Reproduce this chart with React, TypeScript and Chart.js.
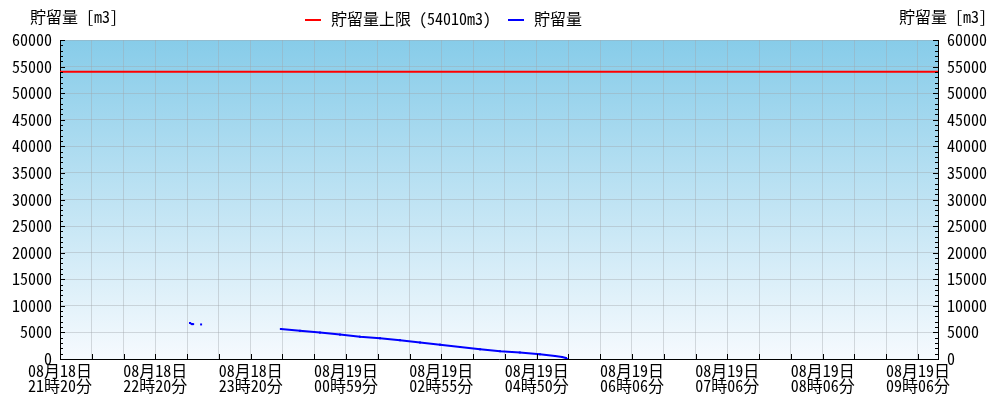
import React, { useEffect, useRef } from "react";
import { Chart, registerables } from "chart.js";

Chart.register(...registerables);

// ---- data ----
const DATE_LABELS = ["08月18日", "08月18日", "08月18日", "08月19日", "08月19日", "08月19日", "08月19日", "08月19日", "08月19日", "08月19日"];
const TIME_LABELS = ["21時20分", "22時20分", "23時20分", "00時59分", "02時55分", "04時50分", "06時06分", "07時06分", "08時06分", "09時06分"];
const X_MIN = 0;
const X_MAX = 27.63;
const LABEL_EVERY = 3;
const Y_MIN = 0;
const Y_MAX = 60000;
const Y_STEP = 5000;
const Y_MINOR_STEP = 1000;
const LIMIT_VALUE = 54010;
const LIMIT_LABEL = "貯留量上限 (54010m3)";
const STORAGE_LABEL = "貯留量";
const AXIS_TITLE = "貯留量 [m3]";
// sample positions (in axis index units) and storage values, null = missing
const STORAGE_X = [4.09, 4.15, 4.19, 4.3, 4.44, 4.6, 6.95, 7.55, 8.18, 8.81, 9.44, 10.07, 10.7, 11.33, 11.96, 12.59, 13.22, 13.85, 14.47, 15.1, 15.58, 15.8, 15.92, 15.95];
const STORAGE_Y: (number | null)[] = [6770, 6560, 6560, null, 6500, null, 5640, 5305, 4966, 4590, 4195, 3894, 3536, 3100, 2700, 2257, 1825, 1467, 1223, 884, 564, 376, 188, 0];

const FONT_FAMILY = "'Noto Sans Mono CJK JP', 'DejaVu Sans Mono', 'Noto Sans CJK JP', monospace";
const FONT_SIZE = 16;
const GRID_COLOR = "rgba(160,165,170,0.4)";

const decorPlugin = {
  id: "decor",
  beforeDraw(chart: any) {
    const { ctx, chartArea: a } = chart;
    const g = ctx.createLinearGradient(0, a.top, 0, a.bottom);
    g.addColorStop(0, "#87CCE9");
    g.addColorStop(1, "#F6FAFE");
    ctx.save();
    ctx.fillStyle = g;
    ctx.fillRect(a.left, a.top, a.right - a.left, a.bottom - a.top);
    ctx.restore();
  },
  afterDraw(chart: any) {
    const { ctx, chartArea: a } = chart;
    const xs = chart.scales.x;
    const ys = chart.scales.y;
    ctx.save();
    ctx.strokeStyle = "#000";
    ctx.lineWidth = 1;
    ctx.beginPath();
    for (let i = Math.ceil(X_MIN); i <= Math.floor(X_MAX); i++) {
      const px = Math.round(xs.getPixelForValue(i)) + 0.5;
      ctx.moveTo(px, a.bottom);
      ctx.lineTo(px, a.bottom - 5);
    }
    for (let v = Y_MIN; v <= Y_MAX; v += Y_MINOR_STEP) {
      const py = Math.round(ys.getPixelForValue(v)) + 0.5;
      const len = v % Y_STEP === 0 ? 5 : 3;
      ctx.moveTo(a.left, py);
      ctx.lineTo(a.left + len, py);
      ctx.moveTo(a.right, py);
      ctx.lineTo(a.right - len, py);
    }
    ctx.stroke();

    // axis titles
    ctx.font = `${FONT_SIZE}px ${FONT_FAMILY}`;
    ctx.fillStyle = "#000";
    ctx.textBaseline = "middle";
    ctx.textAlign = "left";
    ctx.fillText(AXIS_TITLE, 30, 17);
    ctx.textAlign = "right";
    ctx.fillText(AXIS_TITLE, 987, 17);

    // legend
    ctx.textAlign = "left";
    const items = [
      { label: LIMIT_LABEL, color: "#ff0000", x: 305 },
      { label: STORAGE_LABEL, color: "#0000ff", x: 508 },
    ];
    for (const it of items) {
      ctx.strokeStyle = it.color;
      ctx.lineWidth = 2;
      ctx.beginPath();
      ctx.moveTo(it.x, 20);
      ctx.lineTo(it.x + 16, 20);
      ctx.stroke();
      ctx.fillText(it.label, it.x + 26, 19);
    }
    ctx.restore();
  },
};

export default function App() {
  const ref = useRef<HTMLCanvasElement | null>(null);
  useEffect(() => {
    document.body.style.margin = "0";
    const canvas = ref.current!;
    const font = { family: FONT_FAMILY, size: FONT_SIZE };
    const storageData = STORAGE_X.map((x, i) => ({ x, y: STORAGE_Y[i] }));
    const limitData = [
      { x: X_MIN, y: LIMIT_VALUE },
      { x: X_MAX, y: LIMIT_VALUE },
    ];
    const chart = new Chart(canvas, {
      type: "line",
      data: {
        datasets: [
          {
            label: LIMIT_LABEL,
            data: limitData,
            borderColor: "#ff0000",
            borderWidth: 2,
            pointRadius: 0,
            yAxisID: "y",
          },
          {
            label: STORAGE_LABEL,
            data: storageData as any,
            borderColor: "#0000ff",
            backgroundColor: "#0000ff",
            borderWidth: 2,
            pointRadius: 1.4,
            pointBorderWidth: 0,
            pointStyle: "rect",
            spanGaps: false,
            yAxisID: "y",
          },
        ],
      },
      options: {
        animation: false,
        responsive: false,
        events: [],
        layout: { padding: { top: 40, left: 0, right: 0, bottom: 0 } },
        plugins: { legend: { display: false }, tooltip: { enabled: false }, title: { display: false } },
        scales: {
          x: {
            type: "linear",
            min: X_MIN,
            max: X_MAX,
            afterFit: (s: any) => {
              s.height = 41;
            },
            border: { display: true, color: "#000", width: 1 },
            grid: { color: GRID_COLOR, drawTicks: false, lineWidth: 1 },
            ticks: {
              stepSize: 1,
              includeBounds: false,
              autoSkip: false,
              maxRotation: 0,
              minRotation: 0,
              padding: 4,
              color: "#000",
              font: { ...font, lineHeight: 0.95 },
              callback: (value: any) => {
                const v = Number(value);
                if (Number.isInteger(v) && v % LABEL_EVERY === 0) {
                  const k = v / LABEL_EVERY;
                  if (k < DATE_LABELS.length) return [DATE_LABELS[k], TIME_LABELS[k]];
                }
                return "";
              },
            },
          },
          y: {
            type: "linear",
            position: "left",
            min: Y_MIN,
            max: Y_MAX,
            afterFit: (s: any) => {
              s.width = 60;
            },
            border: { display: true, color: "#000", width: 1 },
            grid: { color: GRID_COLOR, drawTicks: false },
            ticks: { stepSize: Y_STEP, padding: 8, color: "#000", font, callback: (v: any) => String(v) },
          },
          y2: {
            type: "linear",
            position: "right",
            min: Y_MIN,
            max: Y_MAX,
            afterFit: (s: any) => {
              s.width = 62;
            },
            border: { display: true, color: "#000", width: 1 },
            grid: { drawOnChartArea: false, drawTicks: false },
            ticks: { stepSize: Y_STEP, padding: 9, color: "#000", font, callback: (v: any) => String(v) },
          },
        },
      },
      plugins: [decorPlugin],
    } as any);
    return () => chart.destroy();
  }, []);
  return (
    <div style={{ position: "absolute", left: 0, top: 0, width: 1000, height: 400 }}>
      <canvas ref={ref} width={1000} height={400} style={{ display: "block" }} />
    </div>
  );
}
